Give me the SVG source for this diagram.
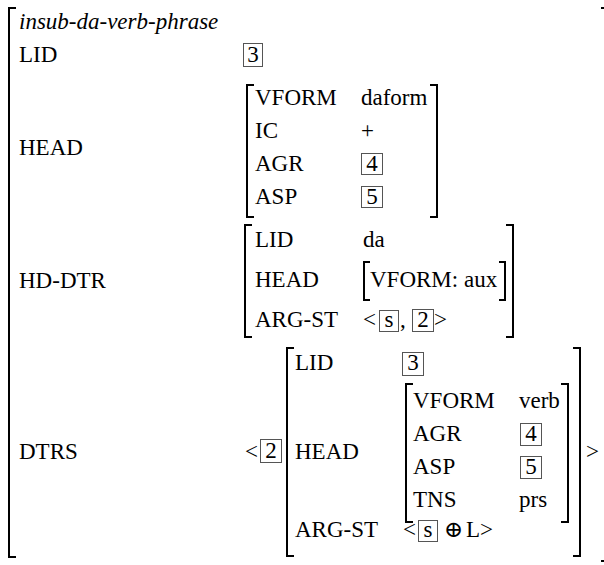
<svg xmlns="http://www.w3.org/2000/svg" width="604" height="565" viewBox="0 0 604 565" font-family="Liberation Serif, Times New Roman, Tinos, DejaVu Serif, serif" font-size="23">
<style>
text{fill:#000}
.it{font-style:italic}
.c{text-anchor:middle}
.br{fill:none;stroke:#000;stroke-width:2}
.bx{fill:none;stroke:#555;stroke-width:1}
</style>
<rect width="604" height="565" fill="#fff"/>
<g id="connectors">
<path class="br" d="M16,8 H9 V557 H16"/>
<path class="br" d="M601,8 H606 M601,561 H606"/>
</g>
<g id="type"><text class="it" x="19" y="29">insub-da-verb-phrase</text></g>
<g id="lid">
<text x="19" y="62">LID</text>
<rect class="bx" x="243.5" y="43.5" width="19" height="23"/><text class="c" x="253" y="62">3</text>
</g>
<g id="head">
<text x="19" y="155">HEAD</text>
<path class="br" d="M254,85 H247 V217 H254"/>
<path class="br" d="M430,85 H437 V217 H430"/>
<text x="255" y="105">VFORM</text><text x="361" y="105">daform</text>
<text x="255" y="138">IC</text><text x="361" y="138">+</text>
<text x="255" y="171">AGR</text><rect class="bx" x="361.5" y="153.5" width="21" height="21"/><text class="c" x="372" y="171">4</text>
<text x="255" y="204">ASP</text><rect class="bx" x="361.5" y="186.5" width="21" height="21"/><text class="c" x="372" y="204">5</text>
</g>
<g id="hd-dtr">
<text x="19" y="288">HD-DTR</text>
<path class="br" d="M252,225 H245 V337 H252"/>
<path class="br" d="M506,225 H513 V337 H506"/>
<text x="255" y="247">LID</text><text x="363" y="247">da</text>
<text x="255" y="287">HEAD</text>
<path class="br" d="M370,262 H364 V300 H370"/>
<path class="br" d="M499,262 H505 V300 H499"/>
<text x="370" y="287">VFORM: aux</text>
<text x="255" y="327">ARG-ST</text>
<text x="363" y="327">&lt;</text>
<rect class="bx" x="379.5" y="310.5" width="19" height="21"/><text class="c" x="389" y="327">s</text>
<text x="400" y="327">,</text>
<rect class="bx" x="412.5" y="309.5" width="21" height="22"/><text class="c" x="423" y="327">2</text>
<text x="434" y="327">&gt;</text>
</g>
<g id="dtrs">
<text x="19" y="459">DTRS</text>
<text x="245" y="459">&lt;</text>
<rect class="bx" x="260.5" y="439.5" width="21" height="23"/><text class="c" x="271" y="458">2</text>
<path class="br" d="M294,348 H287 V556 H294"/>
<path class="br" d="M573,348 H580 V556 H573"/>
<text x="586" y="459">&gt;</text>
<text x="295" y="370">LID</text>
<rect class="bx" x="402.5" y="352.5" width="21" height="23"/><text class="c" x="413" y="370">3</text>
<text x="295" y="459">HEAD</text>
<path class="br" d="M413,384 H406 V522 H413"/>
<path class="br" d="M561,384 H568 V522 H561"/>
<text x="413" y="408">VFORM</text><text x="519" y="408">verb</text>
<text x="413" y="441">AGR</text><rect class="bx" x="520.5" y="423.5" width="21" height="22"/><text class="c" x="531" y="441">4</text>
<text x="413" y="474">ASP</text><rect class="bx" x="520.5" y="456.5" width="21" height="22"/><text class="c" x="531" y="474">5</text>
<text x="413" y="507">TNS</text><text x="519" y="507">prs</text>
<text x="295" y="537">ARG-ST</text>
<text x="403" y="537">&lt;</text>
<rect class="bx" x="418.5" y="520.5" width="19" height="21"/><text class="c" x="428" y="537">s</text>
<text class="c" x="453.5" y="537">⊕</text>
<text x="466" y="537">L&gt;</text>
</g>
</svg>
